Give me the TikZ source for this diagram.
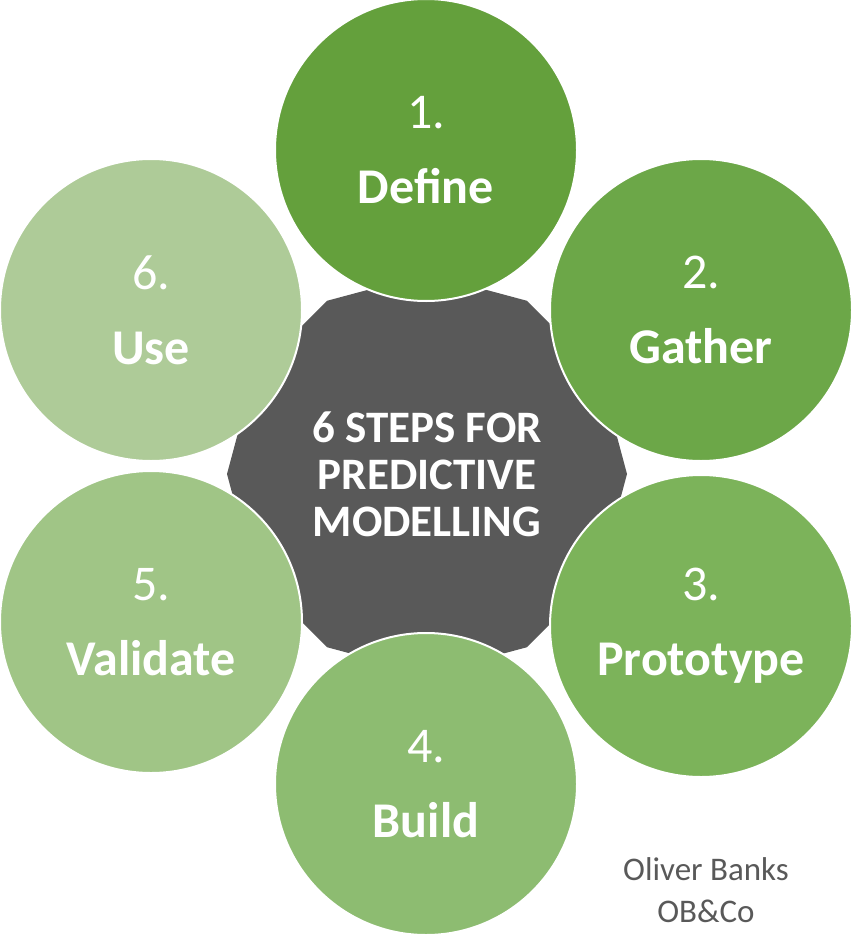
\documentclass[tikz,border=0pt]{standalone}
\usepackage{fontspec}
\setmainfont{Carlito}
\usetikzlibrary{shapes.geometric}
\definecolor{cA}{HTML}{64A03C}
\definecolor{cB}{HTML}{6CA748}
\definecolor{cC}{HTML}{7CB35A}
\definecolor{cD}{HTML}{8DBC71}
\definecolor{cE}{HTML}{A0C586}
\definecolor{cF}{HTML}{AECB98}
\definecolor{hub}{HTML}{595959}
\tikzset{step circ/.style={circle,draw=white,line width=2pt,minimum size=302pt,inner sep=0pt,text=white,align=center,font=\fontsize{50}{75}\selectfont}}
\begin{document}
\begin{tikzpicture}[x=1pt,y=-1pt]
\useasboundingbox (0,0) rectangle (852,950);
\node[regular polygon,regular polygon sides=12,shape border rotate=15,minimum size=400pt,fill=hub,draw=none,text=white,align=center,font=\bfseries\fontsize{45}{47}\selectfont] (hub) at (427,474) {6 STEPS FOR\\PREDICTIVE\\MODELLING};
\node[step circ,fill=cA] (s1) at (426,150) {1.\\\textbf{Define}};
\node[step circ,fill=cB] (s2) at (701,310) {2.\\\textbf{Gather}};
\node[step circ,fill=cC] (s3) at (701,626) {3.\\\textbf{Prototype}};
\node[step circ,fill=cD] (s4) at (426,784) {4.\\\textbf{Build}};
\node[step circ,fill=cE] (s5) at (151,622) {5.\\\textbf{Validate}};
\node[step circ,fill=cF] (s6) at (151,310) {6.\\\textbf{Use}};
\node[text=hub,align=center,font=\fontsize{33}{42}\selectfont] (sig) at (706,890) {Oliver Banks\\OB\&Co};
\end{tikzpicture}
\end{document}
